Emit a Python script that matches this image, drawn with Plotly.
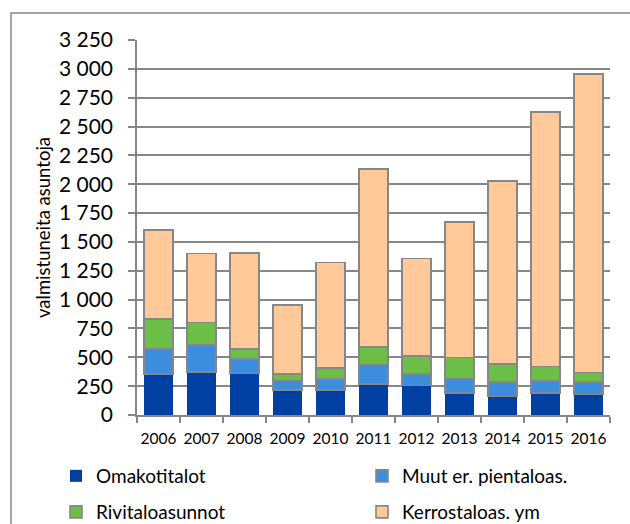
import plotly.graph_objects as go

years = ["2006", "2007", "2008", "2009", "2010", "2011", "2012", "2013", "2014", "2015", "2016"]
omakotitalot = [355, 375, 361, 217, 219, 269, 254, 191, 159, 193, 179]
muut = [217, 234, 122, 83, 93, 170, 99, 124, 127, 104, 107]
rivitalo = [260, 191, 89, 55, 95, 148, 158, 185, 156, 122, 81]
kerrostalo = [771, 598, 832, 598, 916, 1545, 847, 1173, 1586, 2207, 2588]

series = [
    ("Omakotitalot", omakotitalot, "#0040A2", None, "legend"),
    ("Muut er. pientaloas.", muut, "#3C8DDD", "#878787", "legend2"),
    ("Rivitaloasunnot", rivitalo, "#6BBF47", "#878787", "legend3"),
    ("Kerrostaloas. ym", kerrostalo, "#FFC999", "#878787", "legend4"),
]

FONT = "Lato, Carlito, 'Liberation Sans', sans-serif"
fig = go.Figure()
for name, vals, color, line, lg in series:
    fig.add_trace(go.Bar(
        x=years, y=vals, name=name, legend=lg,
        marker=dict(color=color,
                    line=dict(color=line if line else color, width=1.6 if line else 0)),
    ))

W, H = 630, 524
L, R, T, B = 137, 20, 40, 109
pw, ph = W - L - R, H - T - B

def px(x):
    return (x - L) / pw

def py(y):
    return (H - B - y) / ph

def leg(x, y):
    return dict(orientation="h", x=px(x), xanchor="left", y=py(y), yanchor="middle",
                font=dict(size=19, family=FONT), itemwidth=30, bgcolor="rgba(0,0,0,0)")

fig.update_layout(
    width=W, height=H,
    barmode="stack", bargap=0.33,
    paper_bgcolor="white", plot_bgcolor="white",
    margin=dict(l=L, r=R, t=T, b=B, autoexpand=False),
    separators=", ",
    font=dict(family=FONT, color="#000000"),
    showlegend=True,
    legend=leg(56, 476),
    legend2=leg(362, 476),
    legend3=leg(56, 512),
    legend4=leg(362, 512),
    shapes=[dict(type="rect", xref="paper", yref="paper",
                 x0=px(11), x1=px(640), y0=py(535), y1=py(13),
                 line=dict(color="#878787", width=1.5), fillcolor="rgba(0,0,0,0)",
                 layer="below")],
)
fig.update_xaxes(
    type="category", showgrid=False, showline=True, linecolor="#878787", linewidth=1.5,
    ticks="outside", tickson="boundaries", ticklen=6, tickcolor="#878787", tickwidth=1.5,
    tickfont=dict(size=15.5, family=FONT), tickangle=0, ticklabelstandoff=9,
    automargin=False, fixedrange=True,
)
fig.update_yaxes(
    range=[0, 3250], dtick=250, tick0=0, tickformat=",d",
    showgrid=True, gridcolor="#878787", gridwidth=1.5,
    showline=True, linecolor="#878787", linewidth=1.5,
    ticks="outside", ticklen=7, tickcolor="#878787", tickwidth=1.5,
    tickfont=dict(size=21, family=FONT), ticklabelstandoff=11,
    title=dict(text="valmistuneita asuntoja", font=dict(size=18.5, family=FONT), standoff=3),
    zeroline=False, automargin=False, fixedrange=True,
)
fig.write_html("out.html", config={"displayModeBar": False},
               post_script="document.body.style.margin='0';")
